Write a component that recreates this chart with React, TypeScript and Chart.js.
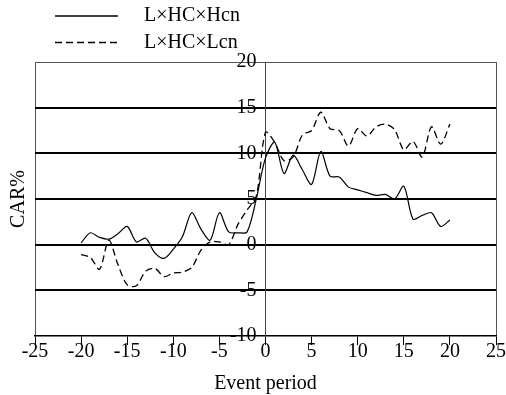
import React, { useEffect, useRef } from 'react';
import { Chart, registerables } from 'chart.js';

Chart.register(...registerables);

const FONT = "'Liberation Serif', 'Times New Roman', serif";

// Event period (days)
const days = [
  -20, -19, -18, -17, -16, -15, -14, -13, -12, -11, -10, -9, -8, -7, -6, -5, -4, -3, -2, -1,
  0, 1, 2, 3, 4, 5, 6, 7, 8, 9, 10, 11, 12, 13, 14, 15, 16, 17, 18, 19, 20,
];

// L×HC×Hcn (solid)
const hcnValues = [
  0.2, 1.3, 0.8, 0.6, 1.2, 2.0, 0.3, 0.7, -0.9, -1.5, -0.5, 0.9, 3.5, 1.7, 0.5, 3.5, 1.4, 1.3, 1.4, 5.0,
  9.5, 11.2, 7.8, 9.8, 8.2, 6.6, 10.2, 7.5, 7.4, 6.3, 6.0, 5.7, 5.4, 5.5, 5.0, 6.4, 2.8, 3.2, 3.5, 2.0, 2.7,
];

// L×HC×Lcn (dashed)
const lcnValues = [
  -1.1, -1.4, -2.7, 0.5, -2.2, -4.4, -4.5, -2.9, -2.6, -3.5, -3.1, -3.0, -2.5, -0.6, 0.3, 0.3, 0.0, 2.2, 3.8, 5.3,
  12.3, 11.2, 9.2, 9.6, 12.0, 12.5, 14.5, 12.7, 12.5, 10.8, 12.7, 11.9, 12.9, 13.2, 12.6, 10.4, 11.3, 9.6, 12.9, 11.0, 13.2,
];

const seriesLabels = ['L×HC×Hcn', 'L×HC×Lcn'];
const xAxisTitle = 'Event period';
const yAxisTitle = 'CAR%';
const xMin = -25;
const xMax = 25;
const xStep = 5;
const yMin = -10;
const yMax = 20;
const yStep = 5;

const lineLegend = {
  id: 'lineLegend',
  afterDraw(chart: any) {
    const ctx = chart.ctx;
    chart.data.datasets.forEach((ds: any, i: number) => {
      const y = 16 + i * 26.5;
      ctx.save();
      ctx.strokeStyle = ds.borderColor;
      ctx.lineWidth = 1.3;
      ctx.setLineDash(ds.borderDash || []);
      ctx.beginPath();
      ctx.moveTo(55, y);
      ctx.lineTo(118, y);
      ctx.stroke();
      ctx.setLineDash([]);
      ctx.fillStyle = '#000';
      ctx.font = `20px ${FONT}`;
      ctx.textBaseline = 'middle';
      ctx.textAlign = 'left';
      ctx.fillText(ds.label, 144, y);
      ctx.restore();
    });
  },
};

export default function App() {
  const ref = useRef<HTMLCanvasElement | null>(null);

  useEffect(() => {
    document.body.style.margin = '0';
    const canvas = ref.current;
    if (!canvas) return;
    const font = { family: FONT, size: 20 };
    const chart = new Chart(canvas, {
      type: 'line',
      data: {
        datasets: [
          {
            label: seriesLabels[0],
            data: days.map((d, i) => ({ x: d, y: hcnValues[i] })),
            borderColor: '#000',
            borderWidth: 1.2,
            tension: 0.3,
            pointRadius: 0,
            fill: false,
          },
          {
            label: seriesLabels[1],
            data: days.map((d, i) => ({ x: d, y: lcnValues[i] })),
            borderColor: '#000',
            borderWidth: 1.3,
            borderDash: [7, 4],
            tension: 0.3,
            pointRadius: 0,
            fill: false,
          },
        ],
      },
      options: {
        responsive: false,
        animation: false,
        devicePixelRatio: 1,
        layout: { padding: { top: 62, right: 10, bottom: 0, left: 0 } },
        plugins: { legend: { display: false }, tooltip: { enabled: false } },
        scales: {
          x: {
            type: 'linear',
            position: 'bottom',
            min: xMin,
            max: xMax,
            ticks: { stepSize: xStep, autoSkip: false, maxRotation: 0, padding: -5, color: '#000', font },
            grid: {
              color: (c: any) => (c.tick && Math.abs(c.tick.value) === xMax ? '#555' : 'rgba(0,0,0,0)'),
              tickColor: '#000',
              tickLength: 9,
              lineWidth: 1,
            },
            border: { display: true, color: '#000', width: 1.5 },
            title: { display: true, text: xAxisTitle, color: '#000', font, padding: { top: 0, bottom: -1 } },
            afterFit: (s: any) => {
              s.height = 59;
            },
          },
          y: {
            type: 'linear',
            position: 'center',
            min: yMin,
            max: yMax,
            ticks: { stepSize: yStep, padding: 9, color: '#000', font },
            grid: {
              drawTicks: false,
              color: (c: any) => (c.tick && c.tick.value === yMax ? '#555' : '#000'),
              lineWidth: (c: any) =>
                c.tick && c.tick.value === yMax ? 1 : c.tick && c.tick.value === yMin ? 0 : 2,
            },
            border: { display: true, color: '#444', width: 1 },
          },
          yTitle: {
            type: 'linear',
            position: 'left',
            min: 0,
            max: 1,
            ticks: { display: false },
            grid: { display: false },
            border: { display: false },
            title: { display: true, text: yAxisTitle, color: '#000', font, padding: { top: 7, bottom: 0 } },
            afterFit: (s: any) => {
              s.width = 35;
            },
          },
        },
      } as any,
      plugins: [lineLegend],
    });
    return () => chart.destroy();
  }, []);

  return (
    <div style={{ width: 506, height: 395, position: 'relative' }}>
      <canvas ref={ref} width={506} height={395} style={{ display: 'block' }} />
    </div>
  );
}
